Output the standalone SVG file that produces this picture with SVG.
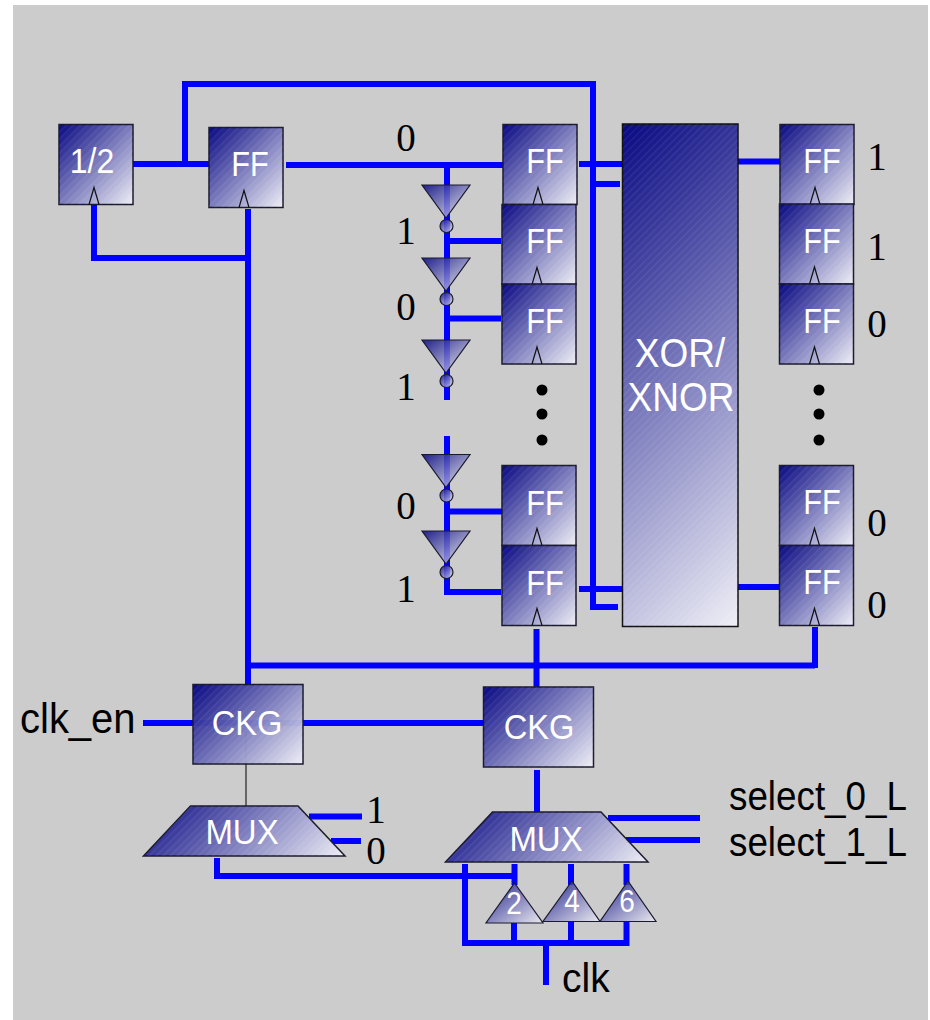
<svg xmlns="http://www.w3.org/2000/svg" xmlns:xlink="http://www.w3.org/1999/xlink" width="930" height="1020" viewBox="0 0 930 1020">
<style>
.w{fill:none;stroke:#0000ff;stroke-width:6}
.thin{fill:none;stroke:#222;stroke-width:1.2}
.s{fill:url(#g);stroke:#1a1a2e;stroke-width:1.5}
.t{fill:url(#gt);stroke:#1a1a2e;stroke-width:1.2}
.h{fill:url(#hatch);stroke:none}
.ck{fill:none;stroke:#111;stroke-width:1.2}
.a{font-family:"Liberation Sans",Arial,sans-serif;fill:#fff;font-size:32px;text-anchor:middle}
.k{font-family:"Liberation Sans",Arial,sans-serif;fill:#000;font-size:36.800px}
.n{font-family:"Liberation Serif","Times New Roman",serif;fill:#000;font-size:39px;text-anchor:middle}
</style>
<defs>
<linearGradient id="g" x1="0" y1="0" x2="1" y2="1"><stop offset="0" stop-color="#000080" stop-opacity=".96"/><stop offset="1" stop-color="#f0f0f8" stop-opacity=".96"/></linearGradient>
<linearGradient id="gt" x1="0" y1="0" x2="1" y2="1"><stop offset="0" stop-color="#000080" stop-opacity=".85"/><stop offset="1" stop-color="#f0f0f8" stop-opacity=".8"/></linearGradient>
<linearGradient id="gx" href="#g" gradientUnits="userSpaceOnUse" x1="622" y1="124" x2="930.500" y2="432.500"/>
<linearGradient id="gc1" href="#g" gradientUnits="userSpaceOnUse" x1="193" y1="684.500" x2="288" y2="779.500"/>
<linearGradient id="gc2" href="#g" gradientUnits="userSpaceOnUse" x1="483.500" y1="687" x2="578.500" y2="782"/>
<linearGradient id="gm1" href="#g" gradientUnits="userSpaceOnUse" x1="143.500" y1="806" x2="269.250" y2="931.750"/>
<linearGradient id="gm2" href="#g" gradientUnits="userSpaceOnUse" x1="445.500" y1="812" x2="571.750" y2="938.250"/>
<pattern id="hatch" width="5" height="5" patternUnits="userSpaceOnUse" patternTransform="rotate(45)"><rect width="1.2" height="5" fill="#fff" fill-opacity=".08"/></pattern>
<g id="ffb"><rect class="s" width="74" height="80"/><rect class="h" width="74" height="80"/><path class="ck" d="M30 80L35 63L40 80"/></g>
<g id="inv"><path class="t" d="M0 0H48L24 33Z"/><circle class="t" cx="24.500" cy="41" r="6.500"/></g>
</defs>
<rect x="13" y="5" width="915" height="1015" fill="#cccccc"/>
<g id="connectors">
<path class="w" d="M133 164H209M185 164V84H593V607H618"/>
<path class="w" d="M94 204V258H248M248 209V686"/>
<path class="w" d="M286 165H503M447 165V400M447 436V592H501M447 241H501M447 318.500H501M447 511.500H502"/>
<path class="w" d="M579 164H622M593 184H620M579 589H622"/>
<path class="w" d="M738 161.500H780M736 587H780"/>
<path class="w" d="M248 665.500H815M815 627V668M536.500 629V687"/>
<path class="w" d="M143 723H484"/>
<path class="thin" d="M246 730V806"/>
<path class="w" d="M537 770V812"/>
<path class="w" d="M309 816.500H362M331 841H361"/>
<path class="w" d="M217 858V876H514.500M514.500 864V885"/>
<path class="w" d="M608 818H700M626 840H700"/>
<path class="w" d="M465 864V943H627M514 923V943M571 864V885M571 921V943M626.500 864V885M626.500 921V946M546 943V985"/>
</g>
<g id="node-div"><use href="#ffb" x="59" y="124.500"/><text class="a" transform="translate(92 173) scale(1 1.1)">1/2</text></g>
<g id="node-ff0"><use href="#ffb" x="209" y="127.500"/><text class="a" transform="translate(250 176) scale(.96 1.1)">FF</text></g>
<g id="node-inv1"><use href="#inv" x="422" y="185"/></g>
<g id="node-inv2"><use href="#inv" x="422" y="258"/></g>
<g id="node-inv3"><use href="#inv" x="422" y="340"/></g>
<g id="node-inv4"><use href="#inv" x="422" y="454.500"/></g>
<g id="node-inv5"><use href="#inv" x="422" y="531"/></g>
<g id="node-ffl1"><use href="#ffb" x="503" y="124.500"/><text class="a" transform="translate(545 173) scale(.96 1.1)">FF</text></g>
<g id="node-ffl2"><use href="#ffb" x="502" y="204.500"/><text class="a" transform="translate(545 253) scale(.96 1.1)">FF</text></g>
<g id="node-ffl3"><use href="#ffb" x="502" y="284"/><text class="a" transform="translate(545 333) scale(.96 1.1)">FF</text></g>
<g id="node-ffl4"><use href="#ffb" x="502" y="465.500"/><text class="a" transform="translate(545 515) scale(.96 1.1)">FF</text></g>
<g id="node-ffl5"><use href="#ffb" x="502" y="545.500"/><text class="a" transform="translate(545 595) scale(.96 1.1)">FF</text></g>
<g id="node-xor"><rect x="622.500" y="124" width="115.500" height="502.500" fill="url(#gx)" stroke="#111" stroke-width="1.500"/><rect class="h" x="622.500" y="124" width="115.500" height="502.500"/><text class="a" style="font-size:37px" transform="translate(680 367) scale(1 1.1)">XOR/</text><text class="a" style="font-size:37px" transform="translate(681 411) scale(1 1.1)">XNOR</text></g>
<g id="node-ffr1"><use href="#ffb" x="780" y="124.500"/><text class="a" transform="translate(822 173) scale(.96 1.1)">FF</text></g>
<g id="node-ffr2"><use href="#ffb" x="779.500" y="204"/><text class="a" transform="translate(822 253) scale(.96 1.1)">FF</text></g>
<g id="node-ffr3"><use href="#ffb" x="779.500" y="284"/><text class="a" transform="translate(822 333) scale(.96 1.1)">FF</text></g>
<g id="node-ffr4"><use href="#ffb" x="779.500" y="465.500"/><text class="a" transform="translate(822 514) scale(.96 1.1)">FF</text></g>
<g id="node-ffr5"><use href="#ffb" x="779.500" y="545.500"/><text class="a" transform="translate(822 594) scale(.96 1.1)">FF</text></g>
<g id="node-ckg1"><rect x="193" y="684.500" width="110" height="79.500" fill="url(#gc1)" stroke="#1a1a2e" stroke-width="1.500"/><rect class="h" x="193" y="684.500" width="110" height="79.500"/><text class="a" transform="translate(247 735) scale(1.02 1.1)">CKG</text></g>
<g id="node-ckg2"><rect x="483.500" y="687" width="110" height="80" fill="url(#gc2)" stroke="#1a1a2e" stroke-width="1.500"/><rect class="h" x="483.500" y="687" width="110" height="80"/><text class="a" transform="translate(539 739) scale(1.02 1.1)">CKG</text></g>
<g id="node-mux1"><path d="M190.500 806H298L345 856H143.500Z" fill="url(#gm1)" stroke="#1a1a2e" stroke-width="1.500"/><path class="h" d="M190.500 806H298L345 856H143.500Z"/><text class="a" transform="translate(242 844) scale(1.03 1.1)">MUX</text></g>
<g id="node-mux2"><path d="M492.500 812H601L648 862H445.500Z" fill="url(#gm2)" stroke="#1a1a2e" stroke-width="1.500"/><path class="h" d="M492.500 812H601L648 862H445.500Z"/><text class="a" transform="translate(546 851) scale(1.03 1.1)">MUX</text></g>
<g id="node-d2"><path class="t" d="M514.500 883L543 923H486Z"/><text class="a" style="font-size:28px" transform="translate(514 914) scale(1 1.1)">2</text></g>
<g id="node-d4"><path class="t" d="M572 881L600 921.500H543Z"/><text class="a" style="font-size:28px" transform="translate(572 912) scale(1 1.1)">4</text></g>
<g id="node-d6"><path class="t" d="M628 881L656 921.500H600Z"/><text class="a" style="font-size:28px" transform="translate(627 912) scale(1 1.1)">6</text></g>
<g id="dots" fill="#000"><circle cx="542" cy="390" r="5.500"/><circle cx="542" cy="414" r="5.500"/><circle cx="542" cy="440" r="5.500"/><circle cx="819" cy="390" r="5.500"/><circle cx="819" cy="414" r="5.500"/><circle cx="819" cy="440" r="5.500"/></g>
<g id="labels">
<text class="n" x="406" y="151">0</text><text class="n" x="406" y="244">1</text><text class="n" x="406" y="320">0</text><text class="n" x="406" y="400">1</text><text class="n" x="406" y="519">0</text><text class="n" x="406" y="602">1</text>
<text class="n" x="877" y="170">1</text><text class="n" x="877" y="260">1</text><text class="n" x="877" y="337">0</text><text class="n" x="877" y="536">0</text><text class="n" x="877" y="618">0</text>
<text class="n" x="376" y="823">1</text><text class="n" x="376" y="864">0</text>
<text class="k" style="font-size:40px" transform="translate(20 733) scale(1 1.06)">clk_en</text>
<text class="k" transform="translate(729 810) scale(1 1.08)">select_0_L</text>
<text class="k" transform="translate(729 856) scale(1 1.08)">select_1_L</text>
<text class="k" style="font-size:39px" transform="translate(562 992) scale(1 1.06)">clk</text>
</g>
</svg>
